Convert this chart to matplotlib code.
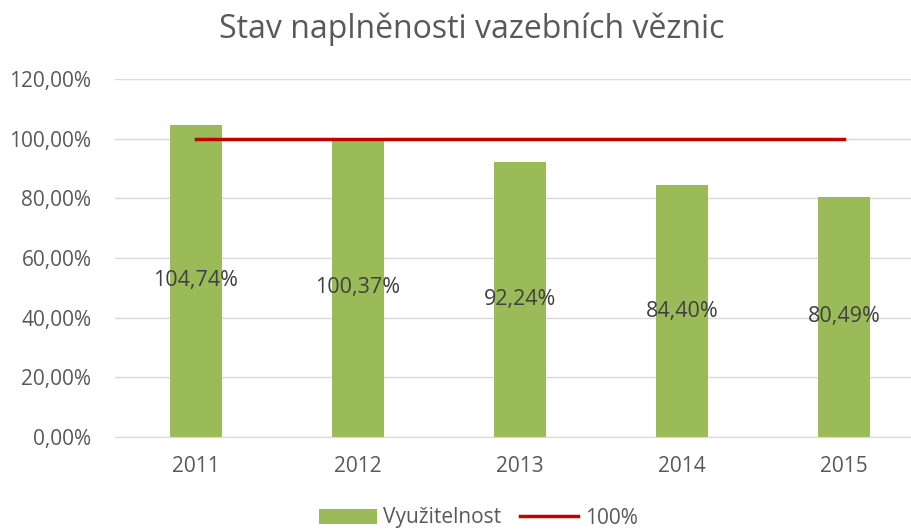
import matplotlib.pyplot as plt
from matplotlib.ticker import FuncFormatter

roky = ['2011', '2012', '2013', '2014', '2015']
vyuzitelnost = [104.74, 100.37, 92.24, 84.40, 80.49]
hranice = [100, 100, 100, 100, 100]

plt.rcParams['font.family'] = ['Open Sans', 'DejaVu Sans']
txt = '#595959'

fig = plt.figure(figsize=(9.12, 5.30), dpi=100)
ax = fig.add_axes([115/912, (530-437)/530, 797/912, 358/530])

x = range(len(roky))
ax.bar(x, vyuzitelnost, width=52/162, color='#9BBB59', label='Využitelnost', zorder=2)
ax.plot(x, hranice, color='#C00000', lw=2.5, label='100%', zorder=3)

for i, v in zip(x, vyuzitelnost):
    ax.text(i, v / 2, f'{v:.2f}%'.replace('.', ','), ha='center', va='center',
            fontsize=15.5, color='#404040', zorder=4)

ax.set_xlim(-0.5, -0.5 + 797/162)
ax.set_ylim(0, 120)
ax.set_yticks(range(0, 121, 20))
ax.yaxis.set_major_formatter(FuncFormatter(lambda v, p: f'{v:.2f}%'.replace('.', ',')))
ax.set_xticks(list(x))
ax.set_xticklabels(roky)
ax.tick_params(length=0, labelsize=15, colors=txt)
ax.tick_params(axis='y', pad=17)
ax.tick_params(axis='x', pad=14)
ax.grid(axis='y', color='#D9D9D9', lw=1, zorder=0)
for s in ax.spines.values():
    s.set_visible(False)
ax.spines['bottom'].set_visible(True)
ax.spines['bottom'].set_color('#D9D9D9')

fig.text(472/912, 1 - 29/530, 'Stav naplněnosti vazebních věznic', ha='center', va='center',
         fontsize=23, color=txt)
h, l = ax.get_legend_handles_labels()
fig.legend(h[::-1], l[::-1], loc='center', bbox_to_anchor=(478/912, 1 - 518/530), ncol=2,
           frameon=False, fontsize=15, labelcolor=txt, handlelength=2.8,
           handletextpad=0.3, columnspacing=0.9)

fig.savefig('out.png', dpi=100)
